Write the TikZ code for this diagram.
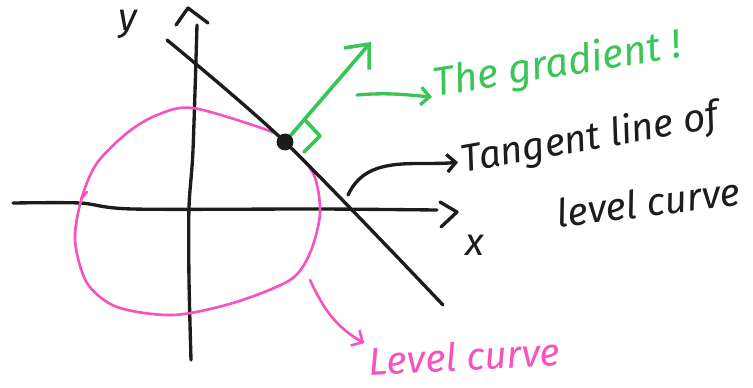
\documentclass[tikz,border=0pt]{standalone}
\usepackage{fontspec}
\setmainfont{Fira Sans}
\definecolor{markerpink}{RGB}{246,82,192}
\definecolor{markergreen}{RGB}{58,198,86}
\definecolor{markerblack}{RGB}{28,28,28}
\usetikzlibrary{arrows.meta}

\begin{document}
\begin{tikzpicture}[x=0.02cm, y=0.02cm,
    pen/.style={line width=1.9pt, line cap=round, line join=round},
    note/.style={font=\fontsize{22}{26}\selectfont\itshape, inner sep=2pt},
    barb/.style={-{Straight Barb[length=5pt, width=10pt]}}]
  \useasboundingbox (0,0) rectangle (753,-387);
  \draw[pen, markerblack] plot[smooth] coordinates {(13,-203) (80,-203) (133,-209) (320,-209) (437,-210)};
  \draw[pen, markerblack] (440,-202) -- (457,-212) -- (441,-227);
  \draw[pen, markerblack] plot[smooth] coordinates {(191,-360) (189,-280) (189,-207) (193,-150) (197,-25)};
  \draw[pen, markerblack] (176,-25) -- (188,-8) -- (208,-23);
  \node[note, markerblack, anchor=base] (ylbl) at (128,-30) {y};
  \node[note, markerblack] (xlbl) at (475,-245) {x};
  \draw[pen, markerpink, line width=1.5pt] plot[smooth cycle] coordinates {(193,-108) (267,-130) (284,-141) (313,-173) (320,-213) (310,-253) (290,-280) (233,-303) (173,-315) (117,-307) (87,-283) (75,-240) (82,-197) (97,-163) (127,-133) (157,-115)};
  \draw[pen, markerpink, line width=1.5pt] (87,-192) -- (81,-199);
  \draw[pen, markerblack] plot[smooth] coordinates {(167,-40) (285,-142) (443,-305)};
  \coordinate (touch) at (285,-142);
  \coordinate (gtip) at (371,-42);
  \draw[pen, markergreen, line width=2.1pt, -{Straight Barb[length=11pt, width=19pt]}] (touch) -- (gtip);
  \draw[pen, markergreen, line width=2.1pt] (305,-120) -- (320,-136) -- (304,-152);
  \fill[markerblack] (touch) circle (4.8pt);
  \node[note, markergreen, anchor=base west, rotate=9, font=\fontsize{23}{27}\selectfont\itshape] (grad) at (432,-97) {The gradient !};
  \coordinate (gfrom) at (357,-95);
  \draw[pen, markergreen, barb] (gfrom) to[out=5, in=175] (grad.base west);
  \node[note, markerblack, anchor=base west, rotate=10] (tanlbl) at (460,-173) {Tangent line of};
  \node[note, markerblack, anchor=base west, rotate=7] (tanlbl2) at (555,-228) {level curve};
  \coordinate (tfrom) at (348,-195);
  \draw[pen, markerblack, barb] (tfrom) to[out=65, in=185] (tanlbl.west);
  \node[note, markerpink, anchor=base west, rotate=3] (lvllbl) at (366,-376) {Level curve};
  \coordinate (lfrom) at (310,-280);
  \draw[pen, markerpink, line width=1.5pt, barb] (lfrom) to[out=-65, in=150] (lvllbl.north west);
\end{tikzpicture}
\end{document}
